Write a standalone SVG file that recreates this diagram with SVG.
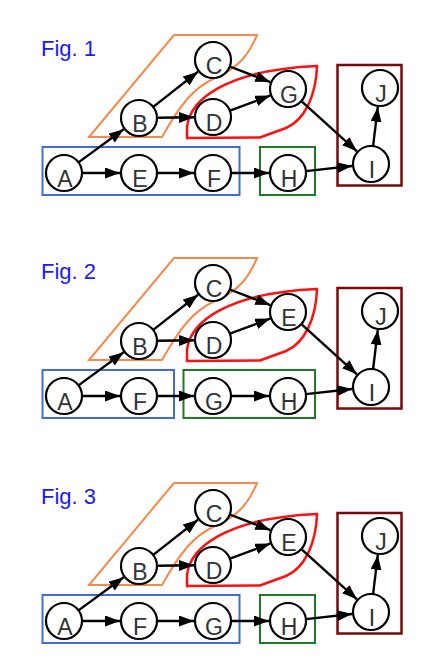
<svg xmlns="http://www.w3.org/2000/svg" width="421" height="660" viewBox="0 0 421 660">
<style>
.node circle{fill:#fff;stroke:#000;stroke-width:2.2}
.node text{font-family:"Liberation Sans",Arial,sans-serif;font-size:23px;fill:#333;text-anchor:middle}
.edge line{stroke:#000;stroke-width:2.4;marker-end:url(#ah)}
.title{font-family:"Liberation Sans",Arial,sans-serif;font-size:22px;fill:#1a1aff}
.blue{fill:none;stroke:#3f6fd6;stroke-width:2}
.green{fill:none;stroke:#1d7a2a;stroke-width:2}
.maroon{fill:none;stroke:#7a0a0a;stroke-width:2.5}
.orange{fill:none;stroke:#f7894a;stroke-width:2}
.red{fill:none;stroke:#ff1010;stroke-width:2.5}
</style>
<defs>
<marker id="ah" markerUnits="userSpaceOnUse" markerWidth="16" markerHeight="12" refX="15" refY="5.5" orient="auto">
<path d="M0,0 L15,5.5 L0,11 Z" fill="#000"/>
</marker>
</defs>
<rect width="421" height="660" fill="#fff"/>

<!-- Figure 1 -->
<g id="fig1">
<text class="title" x="41" y="56">Fig. 1</text>
<g id="fig1-groups">
<path class="orange" d="M174,35 H257 C249,54 240,67 215,78 C193,88 180,105 162,137 H89 Z"/>
<path class="red" d="M187,138 V127 C190,100 225,70 317,66 C316,95 305,120 286,128 L260,137.5 Z"/>
<rect class="blue" x="42.5" y="147" width="197" height="48"/>
<rect class="green" x="260" y="147" width="55" height="48"/>
<rect class="maroon" x="337.5" y="65" width="64" height="120.5"/>
</g>
<g id="fig1-edges" class="edge">
<line x1="78.5" y1="162.4" x2="123.7" y2="129.2"/>
<line x1="82" y1="173" x2="120" y2="173"/>
<line x1="157" y1="173" x2="194" y2="173"/>
<line x1="231" y1="173" x2="269" y2="173"/>
<line x1="305.9" y1="171.1" x2="352.1" y2="166"/>
<line x1="153.2" y1="106.9" x2="198" y2="71.7"/>
<line x1="157" y1="117.8" x2="194" y2="117.3"/>
<line x1="229.8" y1="66.5" x2="270.3" y2="82.1"/>
<line x1="229.9" y1="110.7" x2="270.2" y2="95.6"/>
<line x1="301.4" y1="101.1" x2="356.9" y2="151.3"/>
<line x1="373.1" y1="146.1" x2="377.8" y2="106.9"/>
</g>
<g id="f1-A" class="node"><circle cx="64" cy="173" r="18"/><text x="65" y="187">A</text></g>
<g id="f1-E" class="node"><circle cx="139" cy="173" r="18"/><text x="140" y="187">E</text></g>
<g id="f1-F" class="node"><circle cx="213" cy="173" r="18"/><text x="214" y="187">F</text></g>
<g id="f1-H" class="node"><circle cx="288" cy="173" r="18"/><text x="289" y="187">H</text></g>
<g id="f1-B" class="node"><circle cx="139" cy="118" r="18"/><text x="140" y="132">B</text></g>
<g id="f1-C" class="node"><circle cx="213" cy="60" r="18"/><text x="214" y="74">C</text></g>
<g id="f1-D" class="node"><circle cx="213" cy="117" r="18"/><text x="214" y="131">D</text></g>
<g id="f1-G" class="node"><circle cx="288" cy="89" r="18"/><text x="289" y="103">G</text></g>
<g id="f1-I" class="node"><circle cx="371" cy="164" r="18"/><text x="372" y="178">I</text></g>
<g id="f1-J" class="node"><circle cx="380" cy="88" r="18"/><text x="381" y="102">J</text></g>
</g>

<!-- Figure 2 -->
<g id="fig2" transform="translate(0,223)">
<text class="title" x="41" y="56">Fig. 2</text>
<g id="fig2-groups">
<path class="orange" d="M174,35 H257 C249,54 240,67 215,78 C193,88 180,105 162,137 H89 Z"/>
<path class="red" d="M187,138 V127 C190,100 225,70 317,66 C316,95 305,120 286,128 L260,137.5 Z"/>
<rect class="blue" x="42.5" y="147" width="131.5" height="48"/>
<rect class="green" x="183.5" y="147" width="131.5" height="48"/>
<rect class="maroon" x="337.5" y="65" width="64" height="120.5"/>
</g>
<g id="fig2-edges" class="edge">
<line x1="78.5" y1="162.4" x2="123.7" y2="129.2"/>
<line x1="82" y1="173" x2="120" y2="173"/>
<line x1="157" y1="173" x2="194" y2="173"/>
<line x1="231" y1="173" x2="269" y2="173"/>
<line x1="305.9" y1="171.1" x2="352.1" y2="166"/>
<line x1="153.2" y1="106.9" x2="198" y2="71.7"/>
<line x1="157" y1="117.8" x2="194" y2="117.3"/>
<line x1="229.8" y1="66.5" x2="270.3" y2="82.1"/>
<line x1="229.9" y1="110.7" x2="270.2" y2="95.6"/>
<line x1="301.4" y1="101.1" x2="356.9" y2="151.3"/>
<line x1="373.1" y1="146.1" x2="377.8" y2="106.9"/>
</g>
<g id="f2-A" class="node"><circle cx="64" cy="173" r="18"/><text x="65" y="187">A</text></g>
<g id="f2-F" class="node"><circle cx="139" cy="173" r="18"/><text x="140" y="187">F</text></g>
<g id="f2-G" class="node"><circle cx="213" cy="173" r="18"/><text x="214" y="187">G</text></g>
<g id="f2-H" class="node"><circle cx="288" cy="173" r="18"/><text x="289" y="187">H</text></g>
<g id="f2-B" class="node"><circle cx="139" cy="118" r="18"/><text x="140" y="132">B</text></g>
<g id="f2-C" class="node"><circle cx="213" cy="60" r="18"/><text x="214" y="74">C</text></g>
<g id="f2-D" class="node"><circle cx="213" cy="117" r="18"/><text x="214" y="131">D</text></g>
<g id="f2-E" class="node"><circle cx="288" cy="89" r="18"/><text x="289" y="103">E</text></g>
<g id="f2-I" class="node"><circle cx="371" cy="164" r="18"/><text x="372" y="178">I</text></g>
<g id="f2-J" class="node"><circle cx="380" cy="88" r="18"/><text x="381" y="102">J</text></g>
</g>

<!-- Figure 3 -->
<g id="fig3" transform="translate(0,448)">
<text class="title" x="41" y="56">Fig. 3</text>
<g id="fig3-groups">
<path class="orange" d="M174,35 H257 C249,54 240,67 215,78 C193,88 180,105 162,137 H89 Z"/>
<path class="red" d="M187,138 V127 C190,100 225,70 317,66 C316,95 305,120 286,128 L260,137.5 Z"/>
<rect class="blue" x="42.5" y="147" width="197" height="48"/>
<rect class="green" x="260" y="147" width="55" height="48"/>
<rect class="maroon" x="337.5" y="65" width="64" height="120.5"/>
</g>
<g id="fig3-edges" class="edge">
<line x1="78.5" y1="162.4" x2="123.7" y2="129.2"/>
<line x1="82" y1="173" x2="120" y2="173"/>
<line x1="157" y1="173" x2="194" y2="173"/>
<line x1="231" y1="173" x2="269" y2="173"/>
<line x1="305.9" y1="171.1" x2="352.1" y2="166"/>
<line x1="153.2" y1="106.9" x2="198" y2="71.7"/>
<line x1="157" y1="117.8" x2="194" y2="117.3"/>
<line x1="229.8" y1="66.5" x2="270.3" y2="82.1"/>
<line x1="229.9" y1="110.7" x2="270.2" y2="95.6"/>
<line x1="301.4" y1="101.1" x2="356.9" y2="151.3"/>
<line x1="373.1" y1="146.1" x2="377.8" y2="106.9"/>
</g>
<g id="f3-A" class="node"><circle cx="64" cy="173" r="18"/><text x="65" y="187">A</text></g>
<g id="f3-F" class="node"><circle cx="139" cy="173" r="18"/><text x="140" y="187">F</text></g>
<g id="f3-G" class="node"><circle cx="213" cy="173" r="18"/><text x="214" y="187">G</text></g>
<g id="f3-H" class="node"><circle cx="288" cy="173" r="18"/><text x="289" y="187">H</text></g>
<g id="f3-B" class="node"><circle cx="139" cy="118" r="18"/><text x="140" y="132">B</text></g>
<g id="f3-C" class="node"><circle cx="213" cy="60" r="18"/><text x="214" y="74">C</text></g>
<g id="f3-D" class="node"><circle cx="213" cy="117" r="18"/><text x="214" y="131">D</text></g>
<g id="f3-E" class="node"><circle cx="288" cy="89" r="18"/><text x="289" y="103">E</text></g>
<g id="f3-I" class="node"><circle cx="371" cy="164" r="18"/><text x="372" y="178">I</text></g>
<g id="f3-J" class="node"><circle cx="380" cy="88" r="18"/><text x="381" y="102">J</text></g>
</g>
</svg>
